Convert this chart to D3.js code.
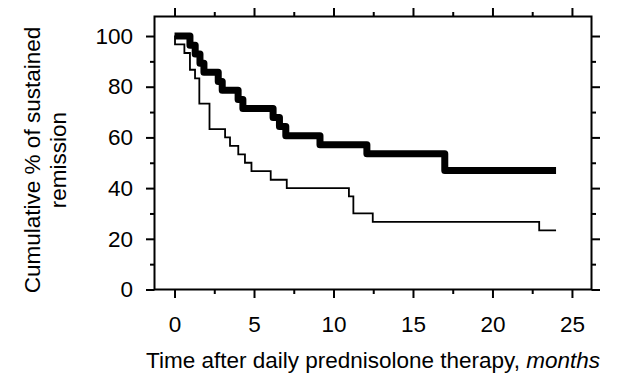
<!DOCTYPE html>
<html lang="en">
<head>
<meta charset="UTF-8">
<title>Sustained remission</title>
<script src="https://cdnjs.cloudflare.com/ajax/libs/d3/7.8.5/d3.min.js"></script>
<style>
  body { margin: 0; background: #fff; }
  text { font-family: Helvetica, Arial, "Liberation Sans", sans-serif; }
</style>
</head>
<body>
<div id="wrapper"></div>
<script>
// thick curve (months, cumulative %)
const thickTimes  = [0, 0.97, 1.3, 1.6, 1.85, 2.75, 3.0, 4.0, 4.3, 6.2, 6.6, 7.0, 9.15, 12.1, 17.0, 24];
const thickValues = [100, 96.4, 92.9, 89.3, 85.7, 82.1, 78.6, 75.0, 71.4, 67.9, 64.3, 60.7, 57.1, 53.6, 46.9, 46.9];

// thin curve
const thinTimes  = [0, 0.03, 0.62, 0.97, 1.29, 1.56, 2.2, 3.18, 3.49, 4.01, 4.43, 4.84, 6.05, 7.06, 10.97, 11.25, 12.47, 22.94, 24];
const thinValues = [100, 96.7, 93.3, 86.7, 83.3, 73.3, 63.3, 60.0, 56.7, 53.3, 50.0, 46.7, 43.3, 40.0, 36.7, 30.0, 26.7, 23.3, 23.3];

const xMajor = [0, 5, 10, 15, 20, 25];
const xMinor = [2.5, 7.5, 12.5, 17.5, 22.5];
const yMajor = [0, 20, 40, 60, 80, 100];
const yMinor = [10, 30, 50, 70, 90];

const fontSize = "22.5px";

const dimensions = {
    width: 618,
    height: 384,
    margin: { top: 16.5, right: 26.5, bottom: 94.5, left: 154.5 },
};
dimensions.boundedWidth = dimensions.width - dimensions.margin.left - dimensions.margin.right;
dimensions.boundedHeight = dimensions.height - dimensions.margin.top - dimensions.margin.bottom;

const svg = d3.select("#wrapper")
    .append("svg")
    .attr("width", dimensions.width)
    .attr("height", dimensions.height);

const bounds = svg.append("g")
    .attr("transform", `translate(${dimensions.margin.left},${dimensions.margin.top})`);

const xScaler = d3.scaleLinear()
    .domain([-1.26, 26.23])
    .range([0, dimensions.boundedWidth]);

const yScaler = d3.scaleLinear()
    .domain([0, 107.7])
    .range([dimensions.boundedHeight, 0]);

// frame
bounds.append("rect")
    .attr("width", dimensions.boundedWidth)
    .attr("height", dimensions.boundedHeight)
    .attr("fill", "none")
    .attr("stroke", "#000")
    .attr("stroke-width", 2);

// axes: major + minor ticks on all four sides, pointing out
function addAxis(gen, values, size, padding, transform) {
    const g = bounds.append("g")
        .attr("transform", transform)
        .call(gen.tickValues(values).tickSize(size).tickSizeOuter(0)
            .tickPadding(padding || 0)
            .tickFormat(padding ? d3.format("d") : ""));
    g.select(".domain").remove();
    g.selectAll(".tick line").attr("stroke", "#000").attr("stroke-width", 2);
    g.selectAll(".tick text")
        .attr("fill", "#000")
        .style("font-size", fontSize);
    return g;
}

const bottomY = `translate(0,${dimensions.boundedHeight})`;
const rightX = `translate(${dimensions.boundedWidth},0)`;

addAxis(d3.axisBottom(xScaler), xMajor, 8.5, 18, bottomY);
addAxis(d3.axisBottom(xScaler), xMinor, 4.5, 0, bottomY);
addAxis(d3.axisTop(xScaler), xMajor, 8.5, 0, "");
addAxis(d3.axisTop(xScaler), xMinor, 4.5, 0, "");
addAxis(d3.axisLeft(yScaler), yMajor, 8.5, 13, "");
addAxis(d3.axisLeft(yScaler), yMinor, 4.5, 0, "");
addAxis(d3.axisRight(yScaler), yMajor, 8.5, 0, rightX);
addAxis(d3.axisRight(yScaler), yMinor, 4.5, 0, rightX);

// step curves
const stepLine = d3.line()
    .x(d => xScaler(d[0]))
    .y(d => yScaler(d[1]))
    .curve(d3.curveStepAfter);

bounds.append("path")
    .datum(d3.zip(thinTimes, thinValues))
    .attr("d", stepLine)
    .attr("fill", "none")
    .attr("stroke", "#000")
    .attr("stroke-width", 1.8);

bounds.append("path")
    .datum(d3.zip(thickTimes, thickValues))
    .attr("d", stepLine)
    .attr("fill", "none")
    .attr("stroke", "#000")
    .attr("stroke-width", 7)
    .attr("stroke-linejoin", "round");

// axis titles
const xTitle = svg.append("text")
    .attr("x", 373)
    .attr("y", 368)
    .attr("text-anchor", "middle")
    .style("font-size", fontSize)
    .attr("fill", "#000");
xTitle.append("tspan").text("Time after daily prednisolone therapy, ");
xTitle.append("tspan").attr("font-style", "italic").text("months");

const yTitle = svg.append("text")
    .attr("transform", "translate(40,160) rotate(-90)")
    .attr("text-anchor", "middle")
    .style("font-size", fontSize)
    .attr("fill", "#000");
yTitle.append("tspan").attr("x", 0).attr("y", 0).text("Cumulative % of sustained");
yTitle.append("tspan").attr("x", 0).attr("y", 26).text("remission");
</script>
</body>
</html>
